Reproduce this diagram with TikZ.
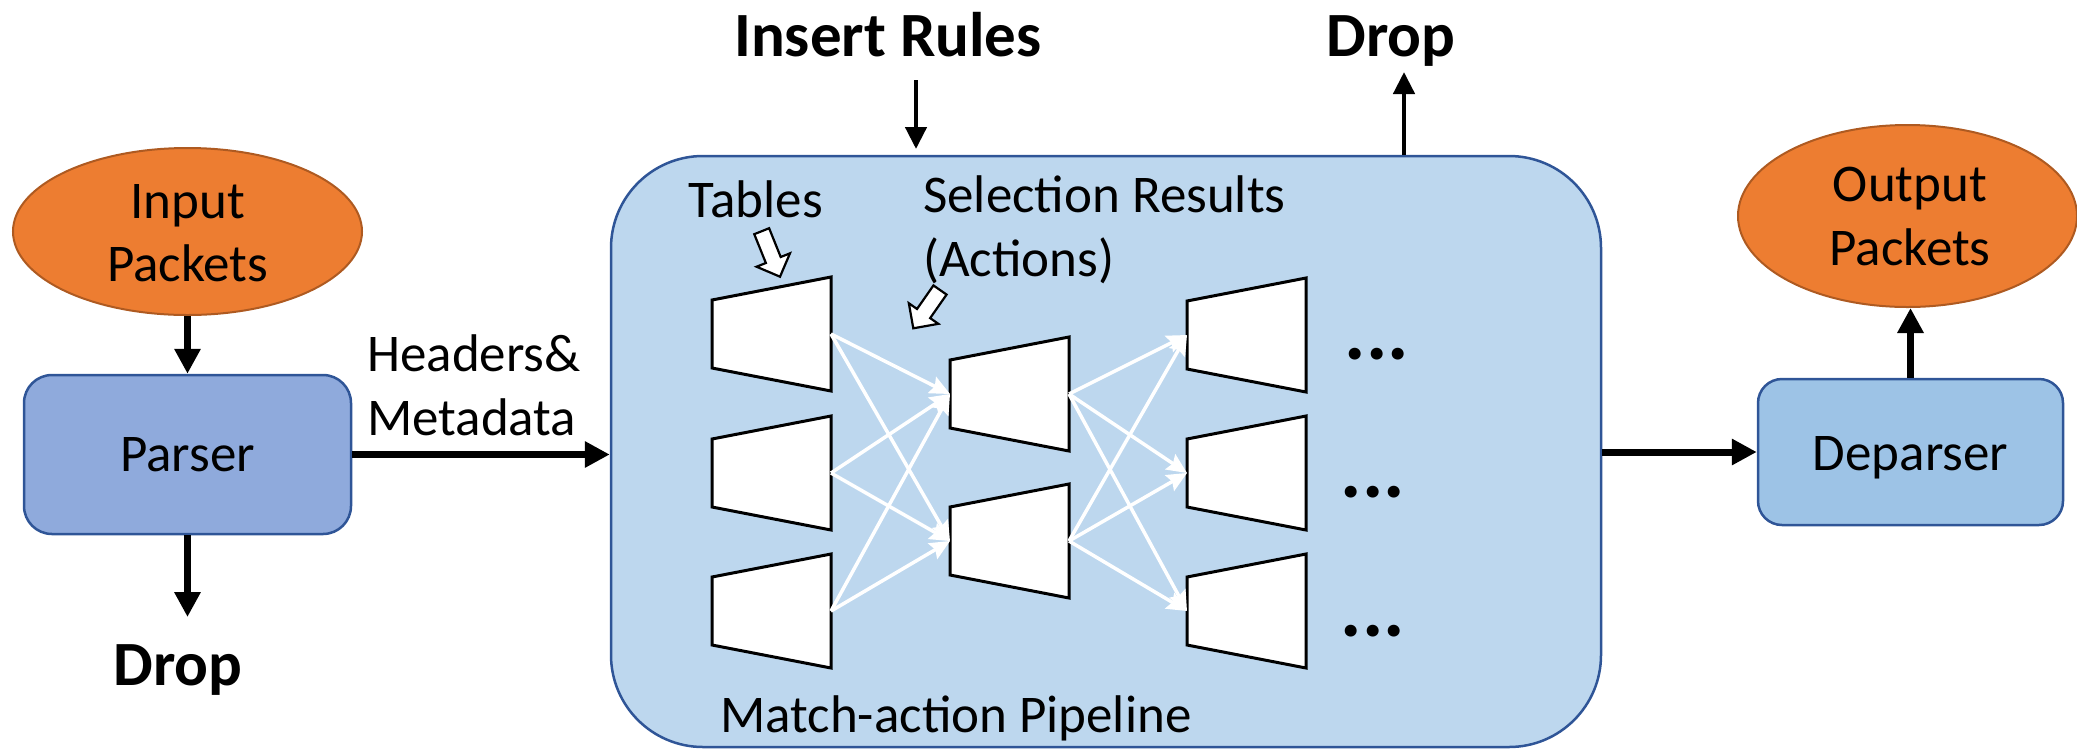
\documentclass[tikz,border=0pt]{standalone}
\usepackage{fontspec}
\setmainfont{Carlito}
\usetikzlibrary{shapes.geometric,arrows.meta,calc}

\definecolor{orangefill}{HTML}{ED7D31}
\definecolor{orangeline}{HTML}{AE5A21}
\definecolor{parserfill}{HTML}{8FAADC}
\definecolor{deparserfill}{HTML}{9DC3E6}
\definecolor{pipefill}{HTML}{BDD7EE}
\definecolor{boxline}{HTML}{2F5597}

% one match-action table: short edge on the left, tall edge on the right
\newcommand\tablebox[3]{%
  \draw[tbl] (#2,{#3-34}) -- ({#2+119},{#3-57}) -- ({#2+119},{#3+57}) -- (#2,{#3+34}) -- cycle;
  \coordinate (#1-in) at (#2,#3);
  \coordinate (#1-out) at ({#2+119},#3);
}
% outlined block arrow from tail (#1) to tip (#2)
\newcommand\hollowarrow[2]{%
  \coordinate (hb) at ($(#2)!18pt!(#1)$);
  \draw[callout] (#2) -- ($(hb)!18pt!90:(#2)$) -- ($(hb)!8pt!90:(#2)$)
    -- ($(#1)!8pt!90:(#2)$) -- ($(#1)!8pt!-90:(#2)$)
    -- ($(hb)!8pt!-90:(#2)$) -- ($(hb)!18pt!-90:(#2)$) -- cycle;
}

\begin{document}
\begin{tikzpicture}[x=1pt,y=-1pt,
  lbl/.style={font=\fontsize{53}{63.5}\selectfont, inner sep=0pt},
  head/.style={font=\fontsize{63}{70}\selectfont\bfseries, inner sep=0pt},
  packet/.style={ellipse, draw=orangeline, line width=2pt, fill=orangefill, inner sep=0pt},
  stage/.style={rectangle, rounded corners=28pt, draw=boxline, line width=2.5pt, inner sep=0pt,
    font=\fontsize{53}{63.5}\selectfont, text height=33pt, text depth=0pt},
  pipe/.style={rectangle, rounded corners=92pt, draw=boxline, line width=2.5pt, fill=pipefill},
  tbl/.style={draw=black, fill=white, line width=3pt, line join=miter},
  feed/.style={line width=7pt, -{Triangle[length=25pt,width=25pt]}},
  ctrl/.style={line width=4.5pt, -{Triangle[length=22pt,width=21pt]}},
  flow/.style={draw=white, line width=3.5pt, -{Stealth[length=20pt,width=18pt,inset=3pt]}},
  callout/.style={draw=black, fill=white, line width=2.2pt, line join=miter},
  more/.style={font=\fontsize{80}{80}\selectfont\bfseries, inner sep=0pt, anchor=base}]

\useasboundingbox (0,0) rectangle (2077,748);

% packets and stages
\node[packet, minimum width=349pt, minimum height=167pt] (inpk) at (187.5,231.5) {};
\node[lbl, align=center, anchor=north] (inpktxt) at (187.5,184) {Input\\Packets};
\node[stage, fill=parserfill, minimum width=327pt, minimum height=159pt] (parser) at (187.5,454.5) {Parser};
\node[pipe, minimum width=990pt, minimum height=591pt] (pipe) at (1106,451.5) {};
\node[stage, fill=deparserfill, minimum width=305pt, minimum height=146pt, rounded corners=24pt,
  text height=36pt] (deparser) at (1910.5,452) {Deparser};
\node[packet, minimum width=339pt, minimum height=182pt] (outpk) at (1907.5,216) {};
\node[lbl, align=center, anchor=north] (outpktxt) at (1910,167) {Output\\Packets};

% labels
\node[lbl, align=left, anchor=north west] (hdr) at (367,334.5) {Headers\&\\Metadata};
\node[head, anchor=base] (ins) at (888,56) {Insert Rules};
\node[head, anchor=base] (dropT) at (1391,56) {Drop};
\node[head, anchor=base] (dropB) at (178,685) {Drop};
\node[lbl, anchor=base] (tables) at (756,217) {Tables};
\node[lbl, align=left, anchor=north west] (sel) at (923,175.5) {Selection Results\\(Actions)};
\node[lbl, anchor=base] (mapl) at (956,732) {Match-action Pipeline};

% main packet path
\coordinate (dropBtip) at (187.5,617);
\draw[feed] (inpk.south) -- (parser.north);
\draw[feed] (parser.south) -- (dropBtip);
\draw[feed] (parser.east) -- (parser.east -| pipe.west);
\draw[feed] (pipe.east |- deparser.west) -- (deparser.west);
\draw[feed] (deparser.north) -- (deparser.north |- outpk.south);

% control arrows above the pipeline
\coordinate (insTail) at (916,80);
\coordinate (insTip) at (916,149);
\draw[ctrl] (insTail) -- (insTip);
\coordinate (dropTtip) at (1404,72);
\draw[ctrl] (dropTtip |- pipe.north) -- (dropTtip);

% tables
\tablebox{a1}{712}{334}
\tablebox{a2}{712}{473}
\tablebox{a3}{712}{611}
\tablebox{b1}{950}{394}
\tablebox{b2}{950}{541}
\tablebox{c1}{1187}{335}
\tablebox{c2}{1187}{473}
\tablebox{c3}{1187}{611}

% results flowing between stages
\foreach \s in {a1,a2,a3}{\foreach \t in {b1,b2}{\draw[flow] (\s-out) -- (\t-in);}}
\foreach \s in {b1,b2}{\foreach \t in {c1,c2,c3}{\draw[flow] (\s-out) -- (\t-in);}}

% further stages
\node[more] (m1) at (1377,359.5) {...};
\node[more] (m2) at (1373,497.5) {...};
\node[more] (m3) at (1373,636.5) {...};

% pointer arrows
\coordinate (tabTail) at (761.7,231.2);
\coordinate (tabTip) at (780,276.7);
\hollowarrow{tabTail}{tabTip}
\coordinate (selTail) at (940,290);
\coordinate (selTip) at (913.3,328.3);
\hollowarrow{selTail}{selTip}
\end{tikzpicture}
\end{document}
